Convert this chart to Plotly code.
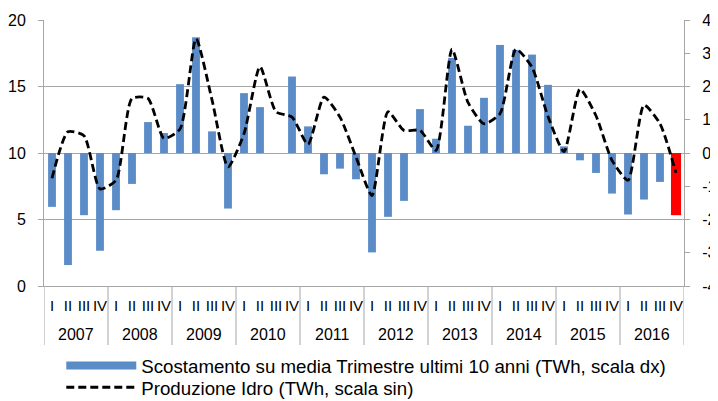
import plotly.graph_objects as go

# Quarters 2007-2016
years = [str(y) for y in range(2007, 2017) for _ in range(4)]
quarters = ["I", "II", "III", "IV"] * 10

# Scostamento su media trimestre ultimi 10 anni (TWh, right scale)
scostamento = [
    -1.62, -3.37, -1.87, -2.94,
    -1.72, -0.93, 0.93, 0.60,
    2.07, 3.48, 0.65, -1.67,
    1.80, 1.38, 0.00, 2.30,
    0.80, -0.64, -0.47, -0.79,
    -2.99, -1.92, -1.44, 1.32,
    0.43, 2.86, 0.82, 1.66,
    3.25, 3.10, 2.96, 2.05,
    0.20, -0.22, -0.60, -1.22,
    -1.85, -1.40, -0.87, -1.87,
]

# Produzione idro (TWh, left scale)
produzione = [
    8.1, 11.6, 11.3, 7.3,
    7.95, 14.1, 14.1, 11.1,
    11.8, 18.6, 14.0, 8.95,
    11.45, 16.5, 13.1, 12.7,
    10.65, 14.2, 12.7, 9.7,
    6.8, 13.1, 11.7, 11.7,
    10.2, 17.8, 13.8, 12.2,
    12.95, 17.8, 16.45, 12.75,
    10.1, 14.8, 12.8, 9.45,
    7.95, 13.6, 12.2, 8.5,
]

# axis ticks
left_ticks = [0, 5, 10, 15, 20]
right_ticks = [-4, -3, -2, -1, 0, 1, 2, 3, 4]
right_labels = ["-4", "-3", "-2", "-1", "0", "1", "2", "3", "4"]

BLUE = "#5B8CC8"
RED = "#FF0000"
GRID = "#A6A6A6"
FONT = "Liberation Sans, Arial, sans-serif"
BAR_NAME = "Scostamento su media Trimestre ultimi 10 anni (TWh, scala dx)"
LINE_NAME = "Produzione Idro (TWh, scala sin)"

idx = list(range(len(quarters)))
# last quarter is highlighted (red, a bit wider)
bar_colors = [BLUE] * (len(idx) - 1) + [RED]
bar_widths = [0.49] * (len(idx) - 1) + [0.63]

fig = go.Figure()

# bars on the right-hand scale (base axis so the line overlay is drawn above)
fig.add_trace(go.Bar(
    x=idx, y=scostamento, width=bar_widths,
    name=BAR_NAME, showlegend=False,
    marker=dict(color=bar_colors, line=dict(width=0)),
    yaxis="y",
))

# legend entry only: Excel shows the bar series as a thick line swatch
fig.add_trace(go.Scatter(
    x=[None], y=[None], mode="lines", name=BAR_NAME,
    line=dict(color=BLUE, width=8), yaxis="y", hoverinfo="skip",
    legend="legend",
))

fig.add_trace(go.Scatter(
    x=idx, y=produzione,
    mode="lines", name=LINE_NAME,
    line=dict(color="black", width=2.8, dash="8px,4px", shape="spline", smoothing=0.6),
    yaxis="y2", legend="legend2",
))

# year group labels and dividers under the quarter labels
year_list = sorted(set(years))
for yr in year_list:
    pos = [i for i, y in enumerate(years) if y == yr]
    fig.add_annotation(
        x=sum(pos) / len(pos), y=-0.182, xref="x", yref="paper",
        text=yr, showarrow=False, yanchor="middle",
        font=dict(size=16, color="black"),
    )
    fig.add_shape(
        type="line", xref="x", yref="paper",
        x0=pos[0] - 0.5, x1=pos[0] - 0.5, y0=0, y1=-0.222,
        line=dict(color=GRID, width=1),
    )
fig.add_shape(
    type="line", xref="x", yref="paper",
    x0=idx[-1] + 0.5, x1=idx[-1] + 0.5, y0=0, y1=-0.222,
    line=dict(color=GRID, width=1),
)

legend_style = dict(
    xanchor="left", yanchor="middle", orientation="v",
    font=dict(size=18.7, color="black"), itemwidth=70,
    bgcolor="rgba(0,0,0,0)",
)

# the page body has an 8px default margin, so the figure is drawn 8px in
fig.update_layout(
    width=710, height=393,
    margin=dict(l=36, r=34, t=12, b=115, autoexpand=False),
    paper_bgcolor="white", plot_bgcolor="white",
    font=dict(family=FONT, size=16, color="black"),
    showlegend=True,
    legend=dict(x=0.027, y=-0.300, **legend_style),
    legend2=dict(x=0.027, y=-0.382, **legend_style),
    xaxis=dict(
        range=[-0.5, len(idx) - 0.5], automargin=False,
        tickmode="array", tickvals=idx, ticktext=quarters,
        showline=True, linecolor=GRID, linewidth=1,
        showgrid=False, zeroline=False, ticks="", tickangle=0,
        ticklabelstandoff=6,
        tickfont=dict(size=15),
    ),
    yaxis=dict(
        side="right", range=[-4, 4], automargin=False,
        tickmode="array", tickvals=right_ticks, ticktext=right_labels,
        showgrid=False, zeroline=False,
        showline=True, linecolor=GRID, linewidth=1,
        ticks="outside", ticklen=5, tickcolor=GRID,
        ticklabelstandoff=9, ticklabeloverflow="allow",
        tickfont=dict(size=16),
    ),
    yaxis2=dict(
        overlaying="y", side="left", range=[0, 20], automargin=False,
        tickmode="array", tickvals=left_ticks,
        showgrid=True, gridcolor=GRID, gridwidth=1, zeroline=False,
        showline=True, linecolor=GRID, linewidth=1,
        ticks="outside", ticklen=5, tickcolor=GRID,
        ticklabelstandoff=9,
        tickfont=dict(size=16),
    ),
)

fig.write_html("out.html")
